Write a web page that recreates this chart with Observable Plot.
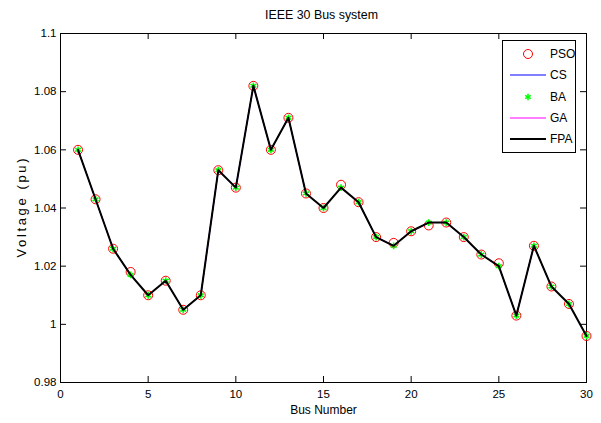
<!DOCTYPE html>
<html><head><meta charset="utf-8">
<script src="https://cdn.jsdelivr.net/npm/d3@7"></script>
<script src="https://cdn.jsdelivr.net/npm/@observablehq/plot@0.6"></script>
<style>
body{margin:0;background:#fff;}
#chart{position:relative;width:601px;height:423px;font-family:"Liberation Sans",Arial,sans-serif;}
#chart svg{position:absolute;left:0;top:0;}
</style>
</head><body><div id="chart"></div>
<script>
const titleText = "IEEE 30 Bus system";
const xLabel = "Bus Number";
const yLabel = "Voltage (pu)";
const bus = [1,2,3,4,5,6,7,8,9,10,11,12,13,14,15,16,17,18,19,20,21,22,23,24,25,26,27,28,29,30];
const pso = [1.060,1.043,1.026,1.018,1.010,1.015,1.005,1.010,1.053,1.047,1.082,1.060,1.071,1.045,1.040,1.048,1.042,1.030,1.028,1.032,1.034,1.035,1.030,1.024,1.021,1.003,1.027,1.013,1.007,0.996];
const cs  = [1.060,1.043,1.026,1.017,1.010,1.015,1.005,1.010,1.053,1.047,1.082,1.060,1.071,1.045,1.040,1.047,1.042,1.030,1.027,1.032,1.035,1.035,1.030,1.024,1.020,1.003,1.027,1.013,1.007,0.996];
const ba  = [1.060,1.043,1.026,1.017,1.010,1.015,1.005,1.010,1.053,1.047,1.082,1.060,1.071,1.045,1.040,1.047,1.042,1.030,1.027,1.032,1.035,1.035,1.030,1.024,1.020,1.003,1.027,1.013,1.007,0.996];
const ga  = [1.060,1.043,1.026,1.017,1.010,1.015,1.005,1.010,1.053,1.047,1.082,1.060,1.071,1.045,1.040,1.047,1.042,1.030,1.027,1.032,1.035,1.035,1.030,1.024,1.020,1.003,1.027,1.013,1.007,0.996];
const fpa = [1.060,1.043,1.026,1.017,1.010,1.015,1.005,1.010,1.053,1.047,1.082,1.060,1.071,1.045,1.040,1.047,1.042,1.030,1.027,1.032,1.035,1.035,1.030,1.024,1.020,1.003,1.027,1.013,1.007,0.996];
const xTicks = [0,5,10,15,20,25,30];
const yTicks = [0.98,1.00,1.02,1.04,1.06,1.08,1.10];
const seriesNames = ["PSO","CS","BA","GA","FPA"];

const rows = bus.map((b,i)=>({bus:b, pso:pso[i], cs:cs[i], ba:ba[i], ga:ga[i], fpa:fpa[i]}));
const fmt = d => String(+d.toFixed(2));
const xDom = [xTicks[0], xTicks[xTicks.length-1]];
const yDom = [yTicks[0], yTicks[yTicks.length-1]];

const W = 601, H = 423, mL = 60, mR = 15, mT = 33, mB = 41, TL = 6;
const fw = W - mL - mR, fh = H - mT - mB;

const chart = Plot.plot({
  width: W, height: H,
  marginLeft: mL, marginRight: mR, marginTop: mT, marginBottom: mB,
  style: {fontFamily: "'Liberation Sans', Arial, sans-serif", fontSize: "11.5px", color: "#000", background: "#fff", overflow: "visible"},
  x: {domain: xDom},
  y: {domain: yDom},
  marks: [
    Plot.frame({stroke: "#000"}),
    Plot.axisX({ticks: xTicks, tickSize: 0, tickPadding: 7, tickFormat: fmt, label: null}),
    Plot.axisY({ticks: yTicks, tickSize: 0, tickPadding: 4, tickFormat: fmt, label: null}),
    Plot.tickX(xTicks, {x: d => d, insetTop: fh - TL, stroke: "#000"}),
    Plot.tickX(xTicks, {x: d => d, insetBottom: fh - TL, stroke: "#000"}),
    Plot.tickY(yTicks, {y: d => d, insetRight: fw - TL, stroke: "#000"}),
    Plot.tickY(yTicks, {y: d => d, insetLeft: fw - TL, stroke: "#000"}),
    Plot.dot(rows, {x: "bus", y: "pso", r: 4.5, stroke: "red", fill: "none", strokeWidth: 1}),
    Plot.line(rows, {x: "bus", y: "cs", stroke: "blue", strokeWidth: 1}),
    Plot.dot(rows, {x: "bus", y: "ba", symbol: "asterisk", r: 3.2, stroke: "#00ff00", strokeWidth: 1.6}),
    Plot.line(rows, {x: "bus", y: "ga", stroke: "magenta", strokeWidth: 1}),
    Plot.line(rows, {x: "bus", y: "fpa", stroke: "black", strokeWidth: 2}),
    Plot.text([titleText], {frameAnchor: "top", dy: -23, dx: -2, fontSize: 12.4, fill: "#000"}),
    Plot.text([xLabel], {frameAnchor: "bottom", dy: 31, fontSize: 12, fill: "#000"}),
    Plot.text([yLabel], {frameAnchor: "left", dx: -39, rotate: -90, fontSize: 13, fill: "#000"})
  ]
});
document.getElementById("chart").appendChild(chart);
d3.select(chart).selectAll("text").each(function(){
  if (this.textContent === yLabel) {
    const len = 99;
    d3.select(this).attr("textLength", len).attr("lengthAdjust", "spacing")
      .attr("text-anchor", "start").attr("x", -len / 2);
  }
});

// legend overlay
const leg = d3.select("#chart").append("svg")
  .attr("width", 601).attr("height", 423)
  .style("pointer-events", "none")
  .attr("font-family", "'Liberation Sans', Arial, sans-serif")
  .attr("font-size", 12);
leg.append("rect").attr("x", 502.5).attr("y", 40.5).attr("width", 73).attr("height", 112)
  .attr("fill", "#fff").attr("stroke", "#000");
const ly = [54, 75, 97, 118, 139];
seriesNames.forEach((name, i) => {
  const y = ly[i];
  if (name === "PSO") {
    leg.append("circle").attr("cx", 528).attr("cy", y).attr("r", 4.5).attr("fill", "none").attr("stroke", "red");
  } else if (name === "BA") {
    const g = leg.append("g").attr("stroke", "#00ff00").attr("stroke-width", 1.6);
    [0, 60, 120].forEach(a => {
      const r = 3.2, t = a * Math.PI / 180;
      g.append("line").attr("x1", 528 - r*Math.sin(t)).attr("y1", y - r*Math.cos(t))
        .attr("x2", 528 + r*Math.sin(t)).attr("y2", y + r*Math.cos(t));
    });
  } else {
    const col = {CS: "#0000ff", GA: "#ff00ff", FPA: "#000000"}[name];
    leg.append("line").attr("x1", 510).attr("x2", 546).attr("y1", y).attr("y2", y)
      .attr("stroke", col).attr("stroke-width", name === "FPA" ? 2 : 1);
  }
  leg.append("text").attr("x", 550).attr("y", y).attr("dy", "0.35em").text(name);
});
</script>
</body></html>
